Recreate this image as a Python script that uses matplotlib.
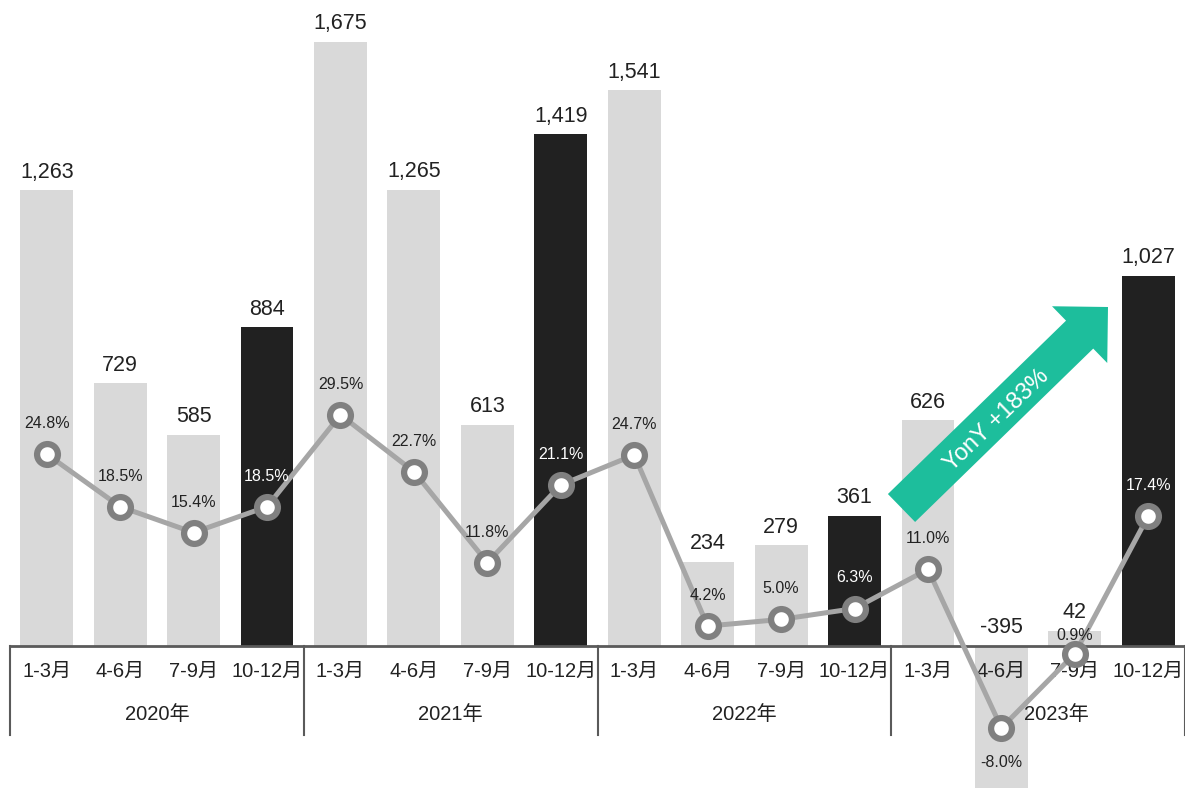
import numpy as np
import matplotlib.pyplot as plt
from matplotlib.patches import Polygon

plt.rcParams['font.family'] = ['Liberation Sans', 'Noto Sans CJK SC', 'DejaVu Sans']

# 四半期ごとの数値
years = ['2020年', '2021年', '2022年', '2023年']
quarters = ['1-3月', '4-6月', '7-9月', '10-12月']
values = [1263, 729, 585, 884,
          1675, 1265, 613, 1419,
          1541, 234, 279, 361,
          626, -395, 42, 1027]
rates = [24.8, 18.5, 15.4, 18.5,
         29.5, 22.7, 11.8, 21.1,
         24.7, 4.2, 5.0, 6.3,
         11.0, -8.0, 0.9, 17.4]
arrow_text = 'YonY +183%'

W, H = 1185, 788
fig = plt.figure(figsize=(W / 100, H / 100), dpi=100)
ax = fig.add_axes([10 / W, 0, 1 - 10 / W, 1])
ax2 = ax.twinx()

n = len(values)
x = np.arange(n)
ymin, ymax = -394, 1791
ax.set_xlim(-0.5, n - 0.5)
ax.set_ylim(ymin, ymax)
ax2.set_ylim(-15.2, 79.2)
px = H / (ymax - ymin)   # pixels per unit

light, dark = '#d9d9d9', '#212121'
colors = [dark if i % 4 == 3 else light for i in range(n)]
ax.bar(x, values, width=0.72, color=colors, zorder=1)

# 棒の上の数値
for i, v in enumerate(values):
    ax.annotate(f'{v:,}', (i, max(v, 0)), xytext=(0, 9), textcoords='offset points',
                ha='center', va='baseline', fontsize=15.5, color='#222222',
                annotation_clip=False)

# 軸線と区切り
ax.axhline(0, color='#5a5a5a', lw=2, zorder=3)
for k in range(len(years) + 1):
    ax.plot([k * 4 - 0.5] * 2, [0, -89 / px], color='#5a5a5a', lw=1.5,
            zorder=3, clip_on=False)
for i, q in enumerate(quarters * len(years)):
    ax.annotate(q, (i, 0), xytext=(0, -26 / 1.389), textcoords='offset points',
                ha='center', va='center', fontsize=14.5, color='#222222')
for k, yname in enumerate(years):
    shift = 13 if k == len(years) - 1 else 0   # 折れ線のマーカーを避ける
    ax.annotate(yname, (k * 4 + 1.5, 0), xytext=(shift, -69 / 1.389),
                textcoords='offset points', ha='center', va='center',
                fontsize=14.5, color='#222222')

# 伸び率の折れ線
ax2.plot(x, rates, color='#a6a6a6', lw=3.6, zorder=4,
         marker='o', markersize=15, markerfacecolor='white',
         markeredgecolor='#808080', markeredgewidth=4.5)
for i, r in enumerate(rates):
    dy = 22
    if r < 0:
        dy = -25
    elif i == 14:
        dy = 13
    tc = 'white' if colors[i] == dark else '#222222'
    ax2.annotate(f'{r:.1f}%', (i, r), xytext=(0, dy), textcoords='offset points',
                 ha='center', va='center', fontsize=11.5, color=tc,
                 annotation_clip=False, zorder=6)

for a in (ax, ax2):
    for s in a.spines.values():
        s.set_visible(False)
    a.set_xticks([])
    a.set_yticks([])
ax.set_zorder(ax2.get_zorder() - 1)
ax2.patch.set_visible(False)

# 矢印
tail = np.array([901.5, 508.0])
tip = np.array([1108.0, 307.0])
d = (tip - tail) / np.linalg.norm(tip - tail)
nrm = np.array([-d[1], d[0]])
base = tip - d * 39.6
pts = [tail + nrm * 19.5, base + nrm * 19.5, base + nrm * 39.6, tip,
       base - nrm * 39.6, base - nrm * 19.5, tail - nrm * 19.5]
pts = [(p[0] / W, 1 - p[1] / H) for p in pts]
fig.patches.append(Polygon(pts, closed=True, facecolor='#1dbe9c', edgecolor='none',
                           transform=fig.transFigure, zorder=10))
fig.text(997 / W, 1 - 420 / H, arrow_text, rotation=44, rotation_mode='anchor',
         ha='center', va='center', fontsize=17, color='white', zorder=11)

fig.savefig('out.png', dpi=100)
